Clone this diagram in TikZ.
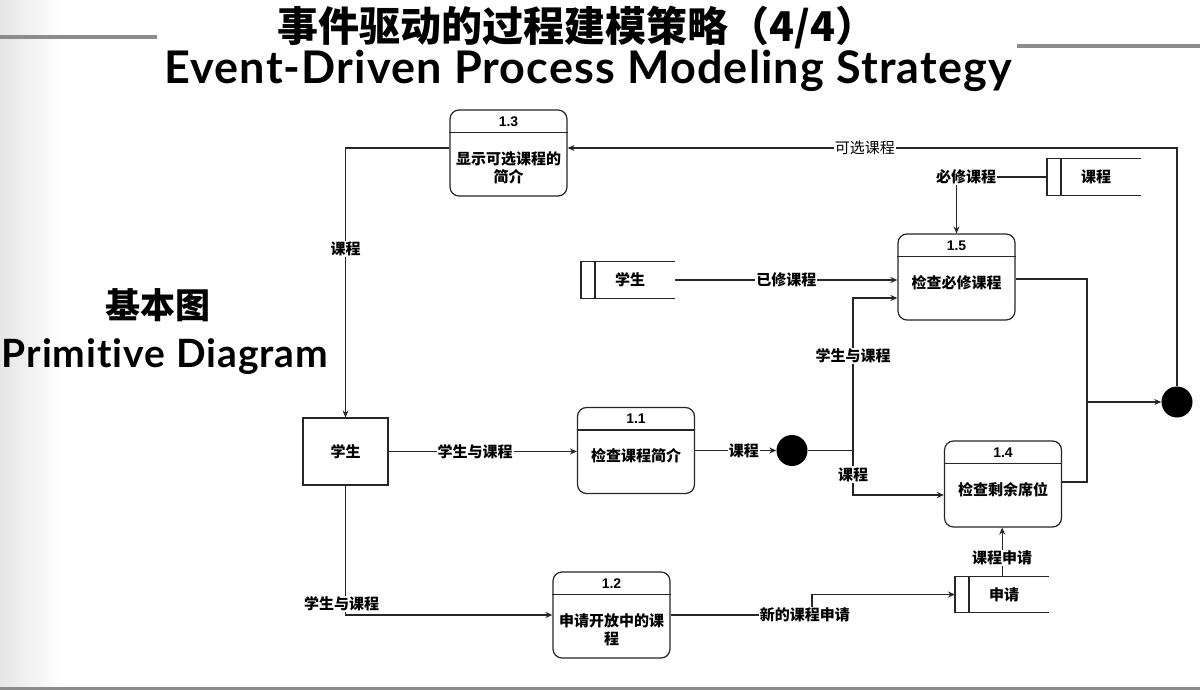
\documentclass[tikz,border=0pt]{standalone}
\usepackage{fontspec}
\setmainfont{Liberation Sans}
\newfontfamily\cjk{Noto Sans CJK SC}
\newfontfamily\headfont[Ligatures=NoCommon,LetterSpace=2.5]{Lato}
\usetikzlibrary{arrows.meta,calc}
\definecolor{ink}{HTML}{262626}
\definecolor{rulegray}{HTML}{8C8C8C}

% process bubble: name, centre, number, caption, caption drop
\newcommand\process[5]{%
  \node[proc] (#1) at (#2) {};
  \draw[line] ([yshift=-23pt]#1.north west) -- ([yshift=-23pt]#1.north east);
  \node[num] (#1n) at ([yshift=-12pt]#1.north) {#3};
  \node[ptext] (#1t) at ([yshift=-#5pt]#1.center) {#4};
}
% open-ended data store: name, left x, centre y, caption
\newcommand\datastore[4]{%
  \node[minimum width=94pt,minimum height=36pt,inner sep=0pt,anchor=west] (#1) at (#2,#3) {};
  \draw[line] (#1.north east) -- (#1.north west) -- (#1.south west) -- (#1.south east);
  \draw[line] ([xshift=14pt]#1.north west) -- ([xshift=14pt]#1.south west);
  \node[stext] (#1t) at ([xshift=2pt]#1.center) {#4};
}

\begin{document}
\begin{tikzpicture}[x=1pt,y=-1pt,
  line/.style={draw=ink,line width=1.2pt},
  flow/.style={line,-{Stealth[length=7pt,width=6pt]}},
  proc/.style={draw=ink,line width=1.2pt,fill=white,rounded corners=9pt,
    minimum width=117pt,minimum height=86pt,inner sep=0pt},
  num/.style={font=\fontsize{14}{14}\selectfont\bfseries},
  ptext/.style={font=\cjk\fontsize{15}{18}\selectfont\bfseries,align=center},
  stext/.style={font=\cjk\fontsize{15}{15}\selectfont\bfseries},
  lab/.style={font=\cjk\fontsize{15}{15}\selectfont\bfseries,fill=white,inner sep=1pt},
  labr/.style={font=\cjk\fontsize{15}{15}\selectfont,fill=white,inner sep=1pt},
  dot/.style={circle,fill=black,inner sep=0pt,minimum size=31pt}]

\useasboundingbox (0,0) rectangle (1200,690);
\fill[white] (0,0) rectangle (1200,690);
\shade[left color=black!10,right color=white] (0,0) rectangle (62,690);

% title rules
\draw[rulegray,line width=4pt] (0,37) -- (157,37);
\draw[rulegray,line width=4pt] (1017,46) -- (1200,46);
\draw[rulegray,line width=3pt] (0,688.5) -- (1200,688.5);

% headings
\node[font=\cjk\fontsize{41}{41}\selectfont\bfseries] (title) at (577,28) {事件驱动的过程建模策略（4/4）};
\node[font=\headfont\fontsize{45}{45}\selectfont\bfseries] (subtitle) at (588,71) {Event-Driven Process Modeling Strategy};
\node[font=\cjk\fontsize{35}{35}\selectfont\bfseries] (kind) at (158,305) {基本图};
\node[font=\headfont\fontsize{39}{39}\selectfont\bfseries,inner sep=0pt] (kinden) at (165,357) {Primitive Diagram};

% processes
\process{p13}{508.5,153}{1.3}{显示可选课程的\\简介}{15}
\process{p15}{956.5,277}{1.5}{检查必修课程}{6}
\process{p11}{636,450.5}{1.1}{检查课程简介}{5}
\process{p14}{1003,484}{1.4}{检查剩余席位}{6}
\process{p12}{611.5,615}{1.2}{申请开放中的课\\程}{15}

% external entity
\node[draw=ink,line width=1.2pt,minimum width=85pt,minimum height=67pt,
  font=\cjk\fontsize{15}{15}\selectfont\bfseries] (ent) at (345.5,451.5) {学生};

% data stores
\datastore{dsC}{1047}{177}{课程}
\datastore{dsS}{581}{280}{学生}
\datastore{dsA}{955}{594.5}{申请}

% junctions
\node[dot] (c1) at (792,450.5) {};
\node[dot] (c2) at (1177,402) {};
\coordinate (j1) at (853,450.5);
\coordinate (j2) at (1087,402);
\coordinate (j3) at (812,594.5);

% flows
\draw[flow] (c2.north) |- ([yshift=5pt]p13.east) node[labr,pos=0.756] {可选课程};
\draw[flow] ([yshift=5pt]p13.west) -| (ent.north) node[lab,pos=0.687] {课程};
\draw[flow] (ent.east) -- (ent.east -| p11.west) node[lab,pos=0.46] {学生与课程};
\draw[flow] (p11.east) -- (p11.east -| c1.west) node[lab,pos=0.6] {课程};
\draw[line] (c1.east) -- (j1);
\draw[flow] (j1) |- ([yshift=-21pt]p15.west) node[lab,pos=0.31] {学生与课程};
\draw[flow] (j1) |- ([yshift=-11pt]p14.west) node[lab,pos=0.27] {课程};
\draw[flow] (dsS.east) -- (dsS.east -| p15.west) node[lab,pos=0.5] {已修课程};
\draw[flow] (dsC.west) -| (p15.north) node[lab,pos=0.447] {必修课程};
\draw[line] ([yshift=-2pt]p15.east) -| (j2) |- ([yshift=2pt]p14.east);
\draw[flow] (j2) -- (c2.west);
\draw[flow] (ent.south) |- (p12.west) node[lab,pos=0.458,xshift=-4pt] {学生与课程};
\draw[flow] (p12.east) -| (j3) node[lab,pos=0.475] {新的课程申请} -- (dsA.west);
\draw[flow] (dsA.north) -- (dsA.north |- p14.south) node[lab,pos=0.38] {课程申请};
\end{tikzpicture}
\end{document}
